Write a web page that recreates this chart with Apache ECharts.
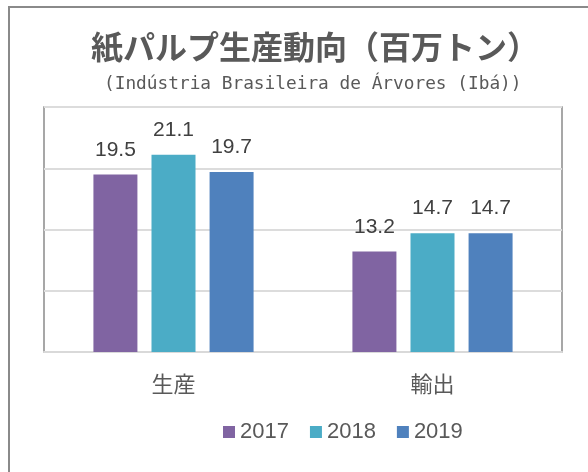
<!DOCTYPE html>
<html>
<head>
<meta charset="utf-8">
<script src="https://cdn.jsdelivr.net/npm/echarts@6/dist/echarts.min.js"></script>
<style>
  html, body { margin: 0; padding: 0; background: #ffffff; overflow: hidden; }
  #chart { width: 588px; height: 472px; }
</style>
</head>
<body>
<div id="chart"></div>
<script>
// Pulp and paper trends, million tonnes
const categories = ['生産', '輸出'];
const years = ['2017', '2018', '2019'];
const values2017 = [19.5, 13.2];
const values2018 = [21.1, 14.7];
const values2019 = [19.7, 14.7];
const yearColors = ['#8064A2', '#4BACC6', '#4F81BD'];

const titleText = '紙パルプ生産動向（百万トン）';
const subtitleText = '(Indústria Brasileira de Árvores (Ibá))';

const seriesValues = [values2017, values2018, values2019];

const chart = echarts.init(document.getElementById('chart'), null, { renderer: 'canvas' });

const labelFont = '"Liberation Sans", Arial, sans-serif';
const cjkFont = '"Noto Sans CJK JP", "Noto Sans", sans-serif';

chart.setOption({
  animation: false,
  backgroundColor: '#ffffff',
  title: [
    {
      text: titleText,
      left: 91,
      top: 31,
      padding: 0,
      textStyle: { fontFamily: cjkFont, fontSize: 32, fontWeight: 'bold', color: '#595959' }
    },
    {
      text: subtitleText,
      left: 104,
      top: 75,
      padding: 0,
      textStyle: { fontFamily: '"DejaVu Sans Mono", monospace', fontSize: 17.8, fontWeight: 'normal', color: '#595959' }
    }
  ],
  graphic: [
    {
      // outer chart frame
      type: 'rect',
      silent: true,
      z: -1,
      shape: { x: 9, y: 7, width: 900, height: 900 },
      style: { fill: 'none', stroke: '#8a8a8a', lineWidth: 2 }
    }
  ],
  legend: {
    data: years,
    left: 223,
    top: 421,
    padding: 0,
    itemWidth: 12,
    itemHeight: 12,
    itemGap: 21,
    icon: 'rect',
    textStyle: { fontFamily: labelFont, fontSize: 22, color: '#595959' }
  },
  grid: {
    left: 44,
    right: 26,
    top: 107,
    bottom: 120,
    show: true,
    borderColor: '#8a8a8a',
    borderWidth: 1.5,
    backgroundColor: 'transparent'
  },
  xAxis: {
    type: 'category',
    data: categories,
    axisTick: { show: false },
    axisLine: { show: true, lineStyle: { color: '#d9d9d9', width: 2 } },
    axisLabel: { margin: 21, fontFamily: cjkFont, fontSize: 22, color: '#595959' }
  },
  yAxis: {
    type: 'value',
    min: 5,
    max: 25,
    interval: 5,
    axisLabel: { show: false },
    axisLine: { show: false },
    axisTick: { show: false },
    splitLine: { show: true, lineStyle: { color: '#dcdcdc', width: 2 } }
  },
  series: years.map((y, i) => ({
    name: y,
    type: 'bar',
    data: seriesValues[i],
    barWidth: 44,
    barGap: '32%',
    itemStyle: { color: yearColors[i] },
    label: {
      show: true,
      position: 'top',
      distance: 14,
      fontFamily: labelFont,
      fontSize: 21,
      color: '#404040',
      formatter: (p) => p.value.toFixed(1)
    }
  }))
});
</script>
</body>
</html>
